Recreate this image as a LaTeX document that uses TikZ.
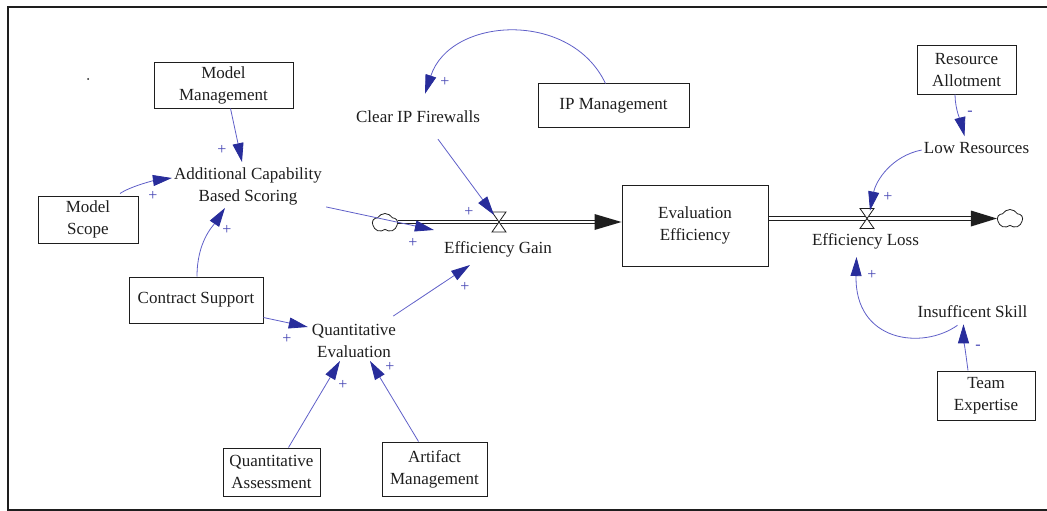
\documentclass[tikz,border=0pt]{standalone}
\usepackage{fontspec}
\setmainfont{Liberation Serif}
\usetikzlibrary{arrows.meta,shapes.symbols,calc}
\definecolor{linkblue}{RGB}{95,95,200}
\definecolor{headblue}{RGB}{40,45,155}
\definecolor{signblue}{RGB}{70,70,180}
\definecolor{inkgray}{RGB}{30,30,30}
\begin{document}
\begin{tikzpicture}[x=1pt,y=-1pt,
  every node/.style={font=\fontsize{17}{22}\selectfont, align=center, text=inkgray},
  var/.style={inner sep=2pt},
  box/.style={draw=inkgray, line width=1pt, inner sep=0pt},
  link/.style={draw=linkblue, line width=0.8pt, -{Triangle[length=19pt,width=11pt,color=headblue]}},
  pol/.style={text=signblue, font=\fontsize{16}{16}\selectfont, inner sep=0pt},
  pipe/.style={draw=inkgray, line width=0.9pt, double=white, double distance=2.6pt},
  sink/.style={cloud, cloud puffs=5, cloud puff arc=120, draw=inkgray, line width=0.8pt, fill=white, minimum width=25pt, minimum height=19pt, inner sep=0pt, aspect=1.3},
  valvestyle/.style={draw=inkgray, line width=0.8pt, fill=white}
]
\useasboundingbox (0,0) rectangle (1047,511);

% frame
\draw[inkgray, line width=1.5pt] (1047,7) -- (8,7) -- (8,510) -- (1047,510);
\fill[inkgray] (88,79) circle (1pt);

% variables and boxes
\node[box, minimum width=139pt, minimum height=45pt] (mm) at (223.5,85.5) {Model\\Management};
\node[var] (acb) at (248,186) {Additional Capability\\Based Scoring};
\node[box, minimum width=100pt, minimum height=47pt] (ms) at (88,219.5) {Model\\Scope};
\node[box, minimum width=134pt, minimum height=46pt] (cs) at (196,300) {Contract Support};
\node[var] (qe) at (354,341) {Quantitative\\Evaluation};
\node[box, minimum width=97pt, minimum height=48pt] (qa) at (271.5,472) {Quantitative\\Assessment};
\node[box, minimum width=105pt, minimum height=54pt] (am) at (434.5,469) {Artifact\\Management};
\node[var] (cif) at (418,117) {Clear IP Firewalls};
\node[box, minimum width=151pt, minimum height=43pt] (ipm) at (613.5,105.5) {IP Management};
\node[var] (eg) at (498,249) {Efficiency Gain};
\node[box, minimum width=146pt, minimum height=81pt] (ee) at (695,225.5) {Evaluation\\Efficiency};
\node[var] (el) at (865.5,241) {Efficiency Loss};
\node[box, minimum width=99pt, minimum height=48pt] (ra) at (966.5,70) {Resource\\Allotment};
\node[var] (lr) at (976.5,148) {Low Resources};
\node[var] (is) at (972.5,312) {Insufficent Skill};
\node[box, minimum width=98pt, minimum height=49pt] (te) at (986,395.5) {Team\\Expertise};

% stock-and-flow pipes
\node[sink] (c1) at (385,223) {};
\node[sink] (c2) at (1010,219) {};
\coordinate (v1) at (499,222);
\coordinate (v2) at (867,218.5);

\draw[pipe] (c1.east |- v1) -- ($(v1 -| ee.west)+(-20,0)$);
\fill[inkgray] (v1 -| ee.west) -- ++(-27,-8) -- ++(0,16) -- cycle;
\draw[pipe] (ee.east |- v2) -- ($(c2.west |- v2)+(-20,0)$);
\fill[inkgray] (c2.west |- v2) -- ++(-26,-8) -- ++(0,16) -- cycle;

\draw[valvestyle] ($(v1)+(-7,-10)$) -- ($(v1)+(7,-10)$) -- ($(v1)+(-7,10)$) -- ($(v1)+(7,10)$) -- cycle;
\draw[valvestyle] ($(v2)+(-7,-10)$) -- ($(v2)+(7,-10)$) -- ($(v2)+(-7,10)$) -- ($(v2)+(7,10)$) -- cycle;

% causal links
\draw[link] ($(mm.south)+(7,0)$) -- ($(acb.north)+(-6,-3)$);
\node[pol] at (222,150) {+};
\draw[link] ($(ms.north)+(32,-2)$) .. controls +(12,-8) and +(-15,2) .. ($(acb.west)+(0,-8)$);
\node[pol] at (153,196) {+};
\draw[link] ($(cs.north)+(1,0)$) .. controls +(0,-35) and +(-12,18) .. ($(acb.south)+(-23,1)$);
\node[pol] at (227,230) {+};
\draw[link] ($(acb.south east)+(2,0)$) -- ($(eg.north west)+(-8,-9)$);
\node[pol] at (413,243) {+};
\draw[link] ($(cif.south)+(20,14)$) -- ($(v1)+(-5,-7)$);
\node[pol] at (469,212) {+};
\draw[link] ($(ipm.north)+(-8,0)$) .. controls +(-35,-74) and +(25,-77) .. ($(cif.north)+(7,-15)$);
\node[pol] at (445,82) {+};
\draw[link] ($(cs.south east)+(0,-6)$) -- ($(qe.west)+(-2,-14)$);
\node[pol] at (287,339) {+};
\draw[link] ($(qe.north east)+(-5,-6)$) -- ($(eg.south)+(-28,6)$);
\node[pol] at (465,287) {+};
\draw[link] ($(qa.north)+(17,0)$) -- ($(qe.south)+(-14,1)$);
\node[pol] at (343,385) {+};
\draw[link] ($(am.north)+(-16,0)$) -- ($(qe.south)+(16,1)$);
\node[pol] at (390,367) {+};
\draw[link] ($(ra.south)+(-11.5,0)$) .. controls +(0,15) and +(-3,-12) .. ($(lr.north)+(-12,-4)$);
\node[pol] at (970,113) {-};
\draw[link] ($(lr.west)+(0,2)$) .. controls +(-30,6) and +(6,-30) .. ($(v2)+(3,-8)$);
\node[pol] at (888,197) {+};
\draw[link] ($(is.south)+(-15,5)$) .. controls +(-35,25) and +(-2,85) .. ($(el.south)+(-9,6)$);
\node[pol] at (872,275) {+};
\draw[link] ($(te.north)+(-18,0)$) .. controls +(-2,-15) and +(0,12) .. ($(is.south)+(-9,4)$);
\node[pol] at (978,347) {-};
\end{tikzpicture}
\end{document}
